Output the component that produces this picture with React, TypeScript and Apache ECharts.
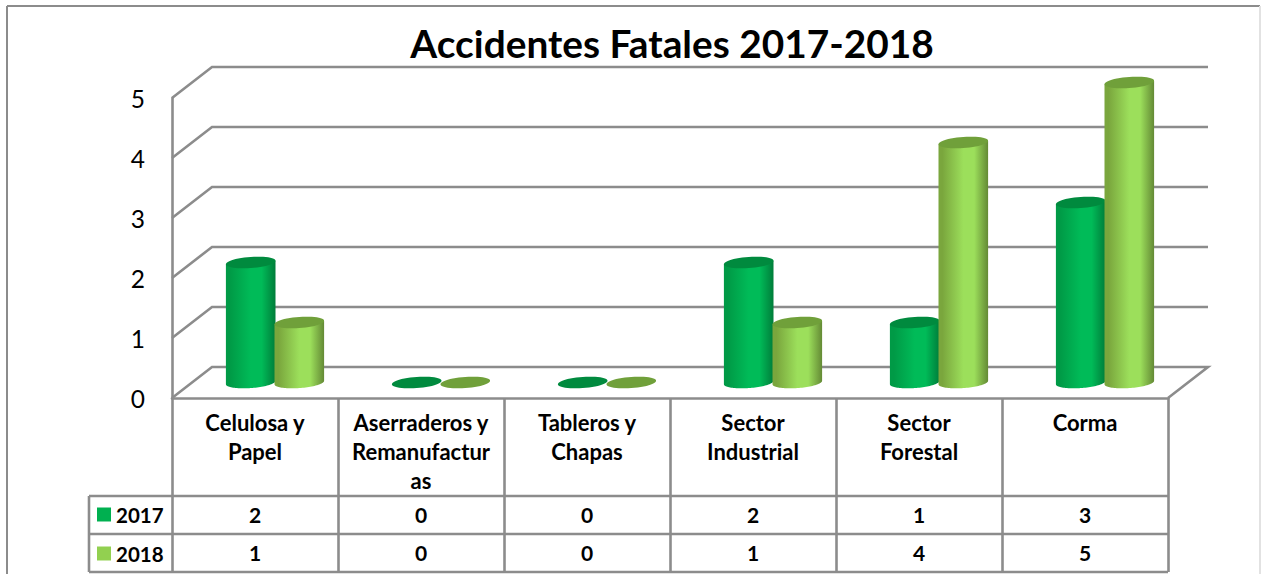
import React, { useEffect, useRef } from "react";
import * as echarts from "echarts";

const title = "Accidentes Fatales 2017-2018";
const categories = [
  "Celulosa y\nPapel",
  "Aserraderos y\nRemanufactur\nas",
  "Tableros y\nChapas",
  "Sector\nIndustrial",
  "Sector\nForestal",
  "Corma",
];
const values2017 = [2, 0, 0, 2, 1, 3];
const values2018 = [1, 0, 0, 1, 4, 5];
const yTicks = [0, 1, 2, 3, 4, 5];

const GREY = "#8c8c8c";
const LINE = 2.6;
const FONT = "Lato";
const W = 1261;
const H = 574;
const DX = 40;
const DY = -31;

function ellipsePts(cx: number, cy: number, rx: number, ry: number, k: number, from: number, to: number) {
  const pts: number[][] = [];
  const n = 48;
  for (let i = 0; i <= n; i++) {
    const t = from + ((to - from) * i) / n;
    const c = Math.cos(t);
    pts.push([cx + rx * c, cy + ry * Math.sin(t) - k * rx * c]);
  }
  return pts;
}

function barSeries(name: string, values: number[], side: number, tableY: number, colors: { edgeL: string; mid: string; edgeR: string; top: string }) {
  return {
    type: "custom",
    name,
    silent: true,
    clip: false,
    z: 3,
    itemStyle: { color: colors.mid },
    encode: { x: 0, y: 1 },
    data: values.map((v, i) => [i, v]),
    renderItem: (_p: any, api: any) => {
      const i = api.value(0);
      const v = api.value(1);
      const top = api.coord([i, v]);
      const base = api.coord([i, 0]);
      const rx = 24.8;
      const ry = 5.6;
      const k = 0.07;
      const cx = top[0] + DX / 2 + side * 24.3;
      const yTop = top[1] + DY / 2;
      const yBase = base[1] + DY / 2;
      const body = [
        ...ellipsePts(cx, yBase, rx, ry, k, 0, Math.PI),
        ...ellipsePts(cx, yTop, rx, 0, k, Math.PI, 0),
      ];
      const children: any[] = [];
      if (v > 0) {
        children.push({
          type: "polygon",
          shape: { points: body },
          style: {
            fill: new echarts.graphic.LinearGradient(0, 0, 1, 0, [
              { offset: 0, color: colors.edgeL },
              { offset: 0.08, color: colors.edgeL },
              { offset: 0.5, color: colors.mid },
              { offset: 0.72, color: colors.mid },
              { offset: 1, color: colors.edgeR },
            ]),
          },
        });
      }
      children.push({
        type: "polygon",
        shape: { points: ellipsePts(cx, yTop, rx, ry, k, 0, Math.PI * 2) },
        style: { fill: colors.top },
      });
      children.push({
        type: "text",
        x: top[0],
        y: tableY,
        style: {
          text: String(v),
          font: `bold 21px ${FONT}`,
          fill: "#000",
          textAlign: "center",
          textVerticalAlign: "middle",
        },
      });
      return { type: "group", children };
    },
  };
}

const gridLines = {
  type: "custom",
  name: "grid",
  silent: true,
  clip: false,
  z: 1,
  encode: { x: 0, y: 1 },
  data: yTicks.map((v) => [0, v]),
  renderItem: (p: any, api: any) => {
    const y = api.coord([0, api.value(1)])[1];
    const left = p.coordSys.x;
    const right = left + p.coordSys.width;
    const pts = [[left, y], [left + DX, y + DY], [right + DX, y + DY]];
    if (api.value(1) === 0) pts.push([right, y]);
    return {
      type: "polyline",
      shape: { points: pts },
      style: { stroke: GREY, lineWidth: LINE, fill: "none" },
    };
  },
};

export default function App() {
  const ref = useRef<HTMLDivElement>(null);
  useEffect(() => {
    const chart = echarts.init(ref.current!, null, { renderer: "svg" });
    chart.setOption({
      animation: false,
      backgroundColor: "#fff",
      title: {
        text: title,
        left: 672,
        top: 23,
        textAlign: "center",
        padding: 0,
        textStyle: { fontFamily: FONT, fontWeight: "bold", fontSize: 38.8, color: "#000" },
      },
      grid: { left: 172, right: W - 1168, top: 98, bottom: H - 398, containLabel: false },
      legend: {
        left: 97,
        top: 504,
        padding: 0,
        orient: "vertical",
        itemWidth: 14,
        itemHeight: 14,
        itemGap: 18,
        selectedMode: false,
        icon: "rect",
        textStyle: { fontFamily: FONT, fontWeight: "bold", fontSize: 20.5, color: "#000" },
        data: [
          { name: "2017", itemStyle: { color: "#00b050" } },
          { name: "2018", itemStyle: { color: "#92d050" } },
        ],
      },
      xAxis: {
        type: "category",
        data: categories,
        axisLine: { show: true, lineStyle: { color: GREY, width: LINE } },
        axisTick: { show: true, length: 174, lineStyle: { color: GREY, width: LINE } },
        axisLabel: {
          interval: 0,
          margin: 10,
          lineHeight: 29,
          fontFamily: FONT,
          fontWeight: "bold",
          fontSize: 22,
          color: "#000",
          verticalAlign: "top",
        },
      },
      yAxis: {
        type: "value",
        min: 0,
        max: 5,
        interval: 1,
        splitLine: { show: false },
        axisLine: { show: true, lineStyle: { color: GREY, width: LINE } },
        axisTick: { show: false },
        axisLabel: { margin: 27, fontFamily: FONT, fontSize: 24.5, color: "#000" },
      },
      graphic: [
        { type: "line", silent: true, shape: { x1: 7, y1: 6, x2: 1260, y2: 6 }, style: { stroke: GREY, lineWidth: 2 } },
        { type: "line", silent: true, shape: { x1: 7, y1: 6, x2: 7, y2: 574 }, style: { stroke: GREY, lineWidth: 2 } },
        { type: "line", silent: true, shape: { x1: 1260, y1: 6, x2: 1260, y2: 574 }, style: { stroke: "#e2e2e2", lineWidth: 2 } },
        { type: "line", silent: true, shape: { x1: 89, y1: 496, x2: 1168, y2: 496 }, style: { stroke: GREY, lineWidth: LINE } },
        { type: "line", silent: true, shape: { x1: 89, y1: 534, x2: 1168, y2: 534 }, style: { stroke: GREY, lineWidth: LINE } },
        { type: "line", silent: true, shape: { x1: 89, y1: 572, x2: 1168, y2: 572 }, style: { stroke: GREY, lineWidth: LINE } },
        { type: "line", silent: true, shape: { x1: 89, y1: 496, x2: 89, y2: 572 }, style: { stroke: GREY, lineWidth: LINE } },
      ],
      series: [
        gridLines,
        barSeries("2017", values2017, -1, 514, { edgeL: "#009a46", mid: "#00bb58", edgeR: "#007d3a", top: "#008a3e" }),
        barSeries("2018", values2018, 1, 552, { edgeL: "#7aa63d", mid: "#9cdf5b", edgeR: "#648a35", top: "#70a03a" }),
      ],
    });
    return () => chart.dispose();
  }, []);
  return <div ref={ref} style={{ position: "fixed", left: 0, top: 0, width: W, height: H }} />;
}
